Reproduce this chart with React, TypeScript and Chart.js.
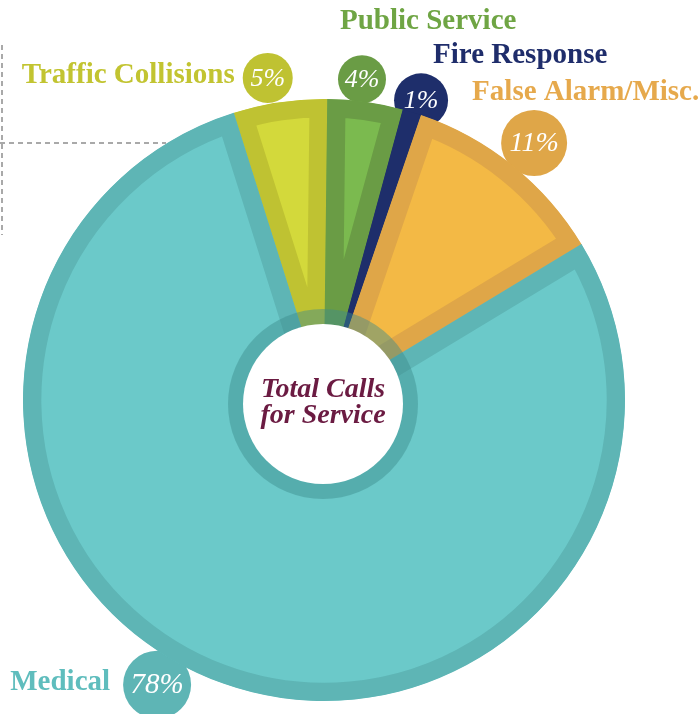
import React, { useEffect, useRef } from 'react';
import { Chart, registerables } from 'chart.js';

Chart.register(...registerables);

const categories = ['Traffic Collisions', 'Public Service', 'Fire Response', 'False Alarm/Misc.', 'Medical'];
const shares = [5, 4, 1, 11, 78];
const percentLabels = ['5%', '4%', '1%', '11%', '78%'];
const centerLines = ['Total Calls', 'for Service'];

const fillColors = ['#d3d93b', '#7bba4f', '#1e2e6b', '#f3b945', '#6bc9c9'];
const rimColors = ['#bfc232', '#6a9c45', '#1e2e6b', '#dfa648', '#5eb5b5'];
const labelColors = ['#c2c431', '#6fa544', '#1f2d6b', '#e6a94c', '#5fbdbd'];

// badge styling (radius px, gap to rim px, angular shift from slice middle in degrees, text size)
const badgeRadius = [25, 24, 27, 33, 34];
const badgeGap = [1, -2, -13, -2, -5];
const badgeShift = [-1.5, -1.2, 0.9, 0.4, 9.7];
const badgeFont = [26, 26, 26, 28, 29];
// label placement relative to badge centre
const labelDx = [-33, -22, 12, -62, -47];
const labelDy = [5, -50, -37, -43, 5];
const labelAlign: CanvasTextAlign[] = ['right', 'left', 'left', 'left', 'right'];

function badgeCenter(arc: any, i: number) {
  const mid = (arc.startAngle + arc.endAngle) / 2 + (badgeShift[i] * Math.PI) / 180;
  const d = arc.outerRadius + badgeRadius[i] + badgeGap[i];
  return { x: arc.x + Math.cos(mid) * d, y: arc.y + Math.sin(mid) * d };
}

const decorPlugin = {
  id: 'decor',
  beforeDatasetsDraw(chart: any) {
    const ctx = chart.ctx as CanvasRenderingContext2D;
    ctx.save();
    // dashed frame lines
    ctx.strokeStyle = '#a9a9a9';
    ctx.lineWidth = 2;
    ctx.setLineDash([5, 4]);
    ctx.beginPath();
    ctx.moveTo(2, 45);
    ctx.lineTo(2, 235);
    ctx.moveTo(0, 143);
    ctx.lineTo(166, 143);
    ctx.stroke();
    ctx.setLineDash([]);
    // badges behind slices
    const meta = chart.getDatasetMeta(0);
    meta.data.forEach((arc: any, i: number) => {
      const c = badgeCenter(arc, i);
      ctx.fillStyle = rimColors[i];
      ctx.beginPath();
      ctx.arc(c.x, c.y, badgeRadius[i], 0, Math.PI * 2);
      ctx.fill();
    });
    ctx.restore();
  },
  afterDatasetsDraw(chart: any) {
    const ctx = chart.ctx as CanvasRenderingContext2D;
    const meta = chart.getDatasetMeta(0);
    const a0 = meta.data[0];
    const cx = a0.x - 1;
    const cy = a0.y + 4;
    ctx.save();
    // centre ring
    ctx.fillStyle = 'rgba(60,140,140,0.45)';
    ctx.beginPath();
    ctx.arc(cx, cy, 95, 0, Math.PI * 2);
    ctx.fill();
    ctx.fillStyle = '#ffffff';
    ctx.beginPath();
    ctx.arc(cx, cy, 80, 0, Math.PI * 2);
    ctx.fill();
    ctx.fillStyle = '#6b1b42';
    ctx.font = 'italic bold 28px "Liberation Serif"';
    ctx.textAlign = 'center';
    ctx.textBaseline = 'alphabetic';
    ctx.fillText(centerLines[0], cx, cy - 7);
    ctx.fillText(centerLines[1], cx, cy + 19);

    meta.data.forEach((arc: any, i: number) => {
      const c = badgeCenter(arc, i);
      ctx.fillStyle = '#ffffff';
      ctx.font = `italic ${badgeFont[i]}px "Liberation Serif"`;
      ctx.textAlign = 'center';
      ctx.textBaseline = 'middle';
      ctx.fillText(percentLabels[i], c.x, c.y + 1);
      ctx.fillStyle = labelColors[i];
      ctx.font = 'bold 29px "Liberation Serif"';
      ctx.textAlign = labelAlign[i];
      ctx.textBaseline = 'alphabetic';
      ctx.fillText(categories[i], c.x + labelDx[i], c.y + labelDy[i]);
    });
    ctx.restore();
  },
};

export default function App() {
  const ref = useRef<HTMLCanvasElement | null>(null);
  useEffect(() => {
    document.body.style.margin = '0';
    const chart = new Chart(ref.current as HTMLCanvasElement, {
      type: 'doughnut',
      data: {
        labels: categories,
        datasets: [
          {
            data: shares,
            backgroundColor: fillColors,
            borderColor: rimColors,
            borderWidth: 18,
            borderAlign: 'inner',
            borderJoinStyle: 'miter',
          } as any,
        ],
      },
      options: {
        responsive: false,
        animation: false,
        rotation: -17.5,
        cutout: 0,
        radius: 301,
        layout: { padding: { left: 0, right: 51, top: 86, bottom: 0 } },
        plugins: {
          legend: { display: false },
          tooltip: { enabled: false },
        },
      } as any,
      plugins: [decorPlugin],
    });
    return () => chart.destroy();
  }, []);
  return (
    <div style={{ position: 'absolute', left: 0, top: 0, width: 699, height: 714 }}>
      <canvas ref={ref} width={699} height={714} style={{ display: 'block' }} />
    </div>
  );
}
